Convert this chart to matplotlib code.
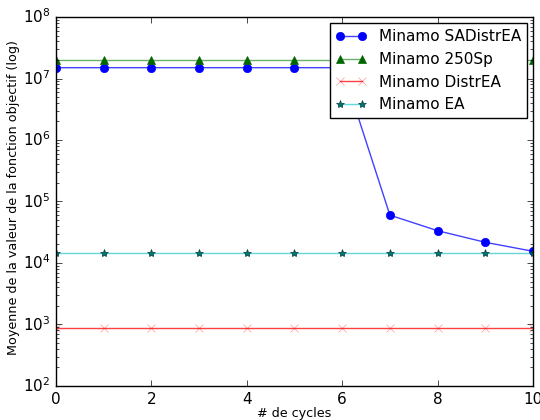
import matplotlib
matplotlib.use("Agg")
import matplotlib.pyplot as plt

plt.style.use("classic")

cycles = [0, 1, 2, 3, 4, 5, 6, 7, 8, 9, 10]
sa_distr_ea = [1.5e7, 1.5e7, 1.5e7, 1.5e7, 1.5e7, 1.5e7, 1.5e7, 6.0e4, 3.35e4, 2.17e4, 1.55e4]
sp250 = [2.0e7] * 11
distr_ea = [880] * 11
ea = [1.45e4] * 11

fig = plt.figure(figsize=(5.4, 4.2), dpi=100)
ax = fig.add_axes([0.1037, 0.081, 0.8833, 0.8785])

ax.plot(cycles, sa_distr_ea, color=(0, 0, 1, 0.75), marker="o", mfc="b", mec="b",
        markersize=6, label="Minamo SADistrEA")
ax.plot(cycles, sp250, color=(0, 0.5, 0, 0.6), marker="^", mfc=(0, 0.4, 0), mec=(0, 0.4, 0),
        markersize=6, label="Minamo 250Sp")
ax.plot(cycles, distr_ea, color=(1, 0, 0, 0.75), marker="x", mec=(1, 0, 0, 0.4),
        markersize=6, label="Minamo DistrEA")
ax.plot(cycles, ea, color=(0, 0.75, 0.75, 0.6), marker="*", mfc=(0, 0.45, 0.45), mec=(0, 0.25, 0.25),
        markersize=6, label="Minamo EA")

ax.set_yscale("log")
ax.set_ylim(1e2, 1e8)
ax.set_xlim(0, 10)
ax.set_xticks([0, 2, 4, 6, 8, 10])
ax.set_xlabel("# de cycles", fontsize=9.2, labelpad=0)
ax.set_ylabel("Moyenne de la valeur de la fonction objectif (log)", fontsize=9.2, labelpad=1)
ax.yaxis.set_label_coords(-0.075, 0.51)
ax.tick_params(labelsize=11)

ax.legend(loc="upper right", fontsize=11, numpoints=2, borderaxespad=0.4)

fig.savefig("out.png", dpi=100)
